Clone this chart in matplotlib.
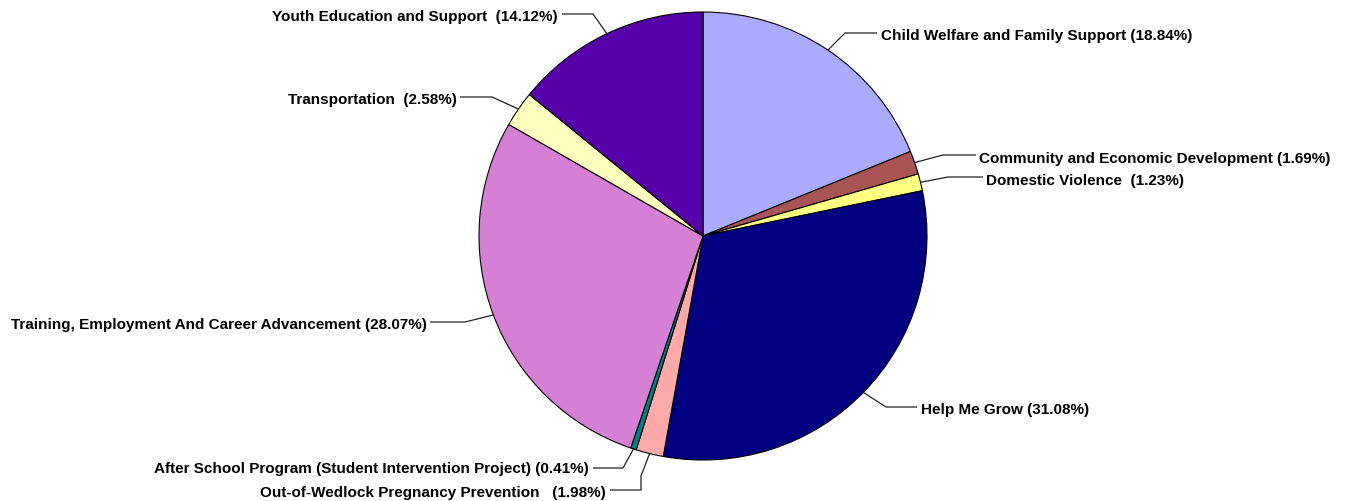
import matplotlib
matplotlib.use("Agg")
import matplotlib.pyplot as plt
import numpy as np

categories = [
    "Child Welfare and Family Support",
    "Community and Economic Development",
    "Domestic Violence ",
    "Help Me Grow",
    "Out-of-Wedlock Pregnancy Prevention  ",
    "After School Program (Student Intervention Project)",
    "Training, Employment And Career Advancement",
    "Transportation ",
    "Youth Education and Support ",
]
values = [18.84, 1.69, 1.23, 31.08, 1.98, 0.41, 28.07, 2.58, 14.12]
colors = ["#AAAAFF", "#A85454", "#FFFF80", "#000080", "#FFAAAA",
          "#008080", "#D580D5", "#FFFFC0", "#5500A8"]

W, H = 1345, 502
fig = plt.figure(figsize=(W / 100, H / 100), dpi=100)
ax = fig.add_axes([0, 0, 1, 1])

cx, cy, R = 703, H - 237, 224
wedges, _ = ax.pie(values, colors=colors, startangle=90, counterclock=False,
                   center=(cx, cy), radius=R, frame=True,
                   wedgeprops=dict(edgecolor="black", linewidth=0.8))
ax.set_xlim(0, W)
ax.set_ylim(0, H)
ax.set_aspect("equal")
ax.axis("off")

# label layout: (text x, text y, ha, intermediate path points) in pixel coords (y from top)
layout = [
    (881, 36, "left", [(845, 34), (877, 34)]),
    (979, 159, "left", [(943, 156), (976, 156)]),
    (986, 181, "left", [(948, 178), (983, 178)]),
    (921, 410, "left", [(886, 408), (917, 408)]),
    (606, 493, "right", [(641, 477), (641, 491), (610, 491)]),
    (589, 469, "right", [(623, 469), (593, 469)]),
    (427, 325, "right", [(465, 323), (430, 323)]),
    (457, 100, "right", [(492, 98), (460, 98)]),
    (558, 17, "right", [(593, 15), (562, 15)]),
]

for w, name, val, (tx, ty, ha, pts) in zip(wedges, categories, values, layout):
    mid = np.deg2rad((w.theta1 + w.theta2) / 2)
    ax_x = cx + R * np.cos(mid)
    ax_y = cy + R * np.sin(mid)
    xs = [ax_x] + [p[0] for p in pts]
    ys = [ax_y] + [H - p[1] for p in pts]
    ax.plot(xs, ys, color="#222222", lw=0.9, solid_capstyle="butt")
    ax.text(tx, H - ty, f"{name} ({val:.2f}%)",
            ha=ha, va="center", fontsize=11, fontweight="bold",
            family="Liberation Sans", color="black")

fig.savefig("out.png", dpi=100)
